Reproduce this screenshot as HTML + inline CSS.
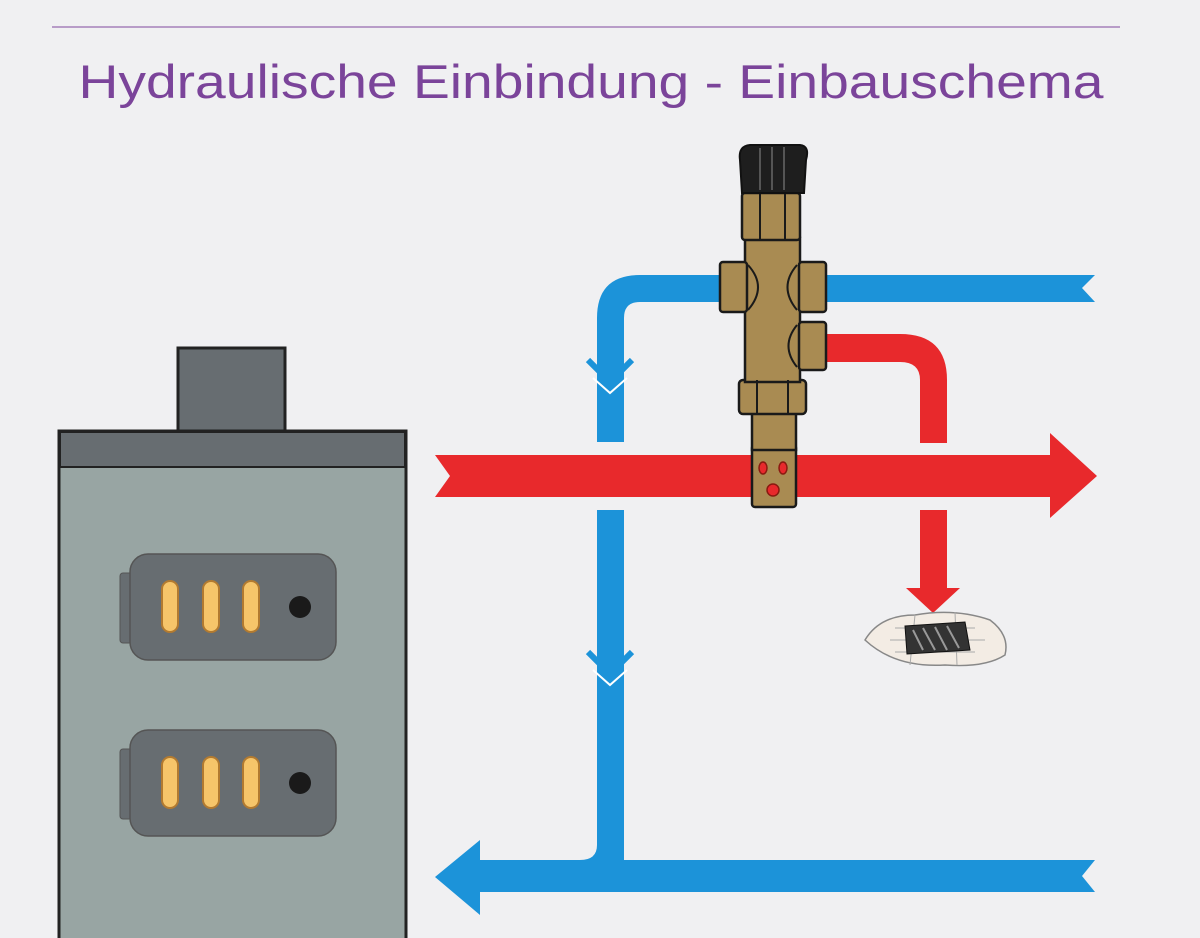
<!DOCTYPE html>
<html><head><meta charset="utf-8"><style>
html,body{margin:0;padding:0;background:#f0f0f2;}
svg{display:block}
</style></head><body>
<svg width="1200" height="938" viewBox="0 0 1200 938" xmlns="http://www.w3.org/2000/svg">
<rect width="1200" height="938" fill="#f0f0f2"/>
<line x1="52" y1="27" x2="1120" y2="27" stroke="#b89cc8" stroke-width="2"/>
<text x="591" y="98" text-anchor="middle" font-family="Liberation Sans, sans-serif" font-size="47" fill="#7b449a" textLength="1025" lengthAdjust="spacingAndGlyphs">Hydraulische Einbindung - Einbauschema</text>

<!-- boiler -->
<rect x="178" y="348" width="107" height="86" fill="#676d71" stroke="#222" stroke-width="3"/>
<rect x="59" y="431" width="347" height="520" fill="#98a5a3" stroke="#222" stroke-width="3"/>
<rect x="60" y="432" width="345" height="35" fill="#676d71" stroke="#222" stroke-width="2"/>
<g id="door">
<rect x="120" y="573" width="12" height="70" rx="3" fill="#676d71" stroke="#555" stroke-width="1"/>
<rect x="130" y="554" width="206" height="106" rx="18" fill="#676d71" stroke="#555" stroke-width="1.5"/>
<rect x="162" y="581" width="16" height="51" rx="8" fill="#f6c56a" stroke="#b27a30" stroke-width="2"/>
<rect x="203" y="581" width="16" height="51" rx="8" fill="#f6c56a" stroke="#b27a30" stroke-width="2"/>
<rect x="243" y="581" width="16" height="51" rx="8" fill="#f6c56a" stroke="#b27a30" stroke-width="2"/>
<circle cx="300" cy="607" r="11" fill="#1a1a1a"/>
</g>
<use href="#door" transform="translate(0,176)"/>

<!-- blue pipes -->
<g fill="#1c93d9">
<path d="M720 275 H640 Q597 275 597 318 V442 H624 V318 Q624 302 640 302 H720 Z"/>
<rect x="597" y="510" width="27" height="352"/>
<path d="M825 275 H1095 L1082 288 L1095 302 H825 Z"/>
<path d="M597 858 V845 Q597 860 580 860 H480 V840 L435 877 L480 915 V892 H1095 L1082 876 L1095 860 H624 V858 Z"/>
</g>
<g fill="none" stroke="#1c93d9" stroke-width="6">
<path d="M588 360 L610 382 L632 360"/>
<path d="M588 652 L610 674 L632 652"/>
</g>
<g fill="none" stroke="#fff" stroke-width="2">
<path d="M593 378 L610 393 L627 378"/>
<path d="M593 670 L610 685 L627 670"/>
</g>

<!-- red pipes -->
<g fill="#e8292c">
<path d="M435 455 H1050 V433 L1097 476 L1050 518 V497 H435 L450 476 Z"/>
<path d="M825 334 H900 Q947 334 947 380 V443 H920 V380 Q920 362 900 362 H825 Z"/>
<path d="M920 510 H947 V588 H960 L933 613 L906 588 H920 Z"/>
</g>

<!-- drain -->
<g transform="translate(935,640)">
<path d="M-70 0 Q-55 -25 -20 -25 Q20 -32 55 -20 Q75 -5 70 15 Q50 28 10 25 Q-40 28 -70 0 Z" fill="#f3ece4" stroke="#888" stroke-width="1.5"/>
<path d="M-40 -12 L40 -12 M-45 0 L50 0 M-40 12 L40 12 M-20 -25 L-25 25 M20 -28 L22 25" stroke="#aaa" stroke-width="1"/>
<path d="M-30 -14 L30 -18 L35 10 L-28 14 Z" fill="#333" stroke="#111"/>
<path d="M-22 -10 L-12 10 M-12 -12 L0 10 M0 -13 L12 10 M12 -14 L24 8" stroke="#999" stroke-width="2"/>
</g>

<!-- valve -->
<g stroke="#1a1a1a" stroke-width="2.5" fill="#a98b52">
<rect x="752" y="445" width="44" height="62" rx="3"/>
<rect x="752" y="412" width="44" height="38"/>
<rect x="739" y="380" width="67" height="34" rx="4"/>
<rect x="745" y="238" width="55" height="144"/>
<rect x="720" y="262" width="27" height="50" rx="3"/>
<rect x="799" y="262" width="27" height="50" rx="3"/>
<rect x="799" y="322" width="27" height="48" rx="3"/>
<rect x="742" y="193" width="58" height="47" rx="3"/>
</g>
<g stroke="#1a1a1a" stroke-width="2" fill="none">
<path d="M760 193 V240 M785 193 V240 M757 380 V414 M788 380 V414"/>
<path d="M748 265 Q768 287 748 310 M797 265 Q778 287 797 310 M797 325 Q780 346 797 367"/>
</g>
<path d="M740 160 Q738 146 750 145 H800 Q810 146 806 160 L804 193 H742 Z" fill="#1e1e1e" stroke="#111" stroke-width="2"/>
<g stroke="#555" stroke-width="2"><path d="M760 148 V190 M772 147 V190 M784 147 V190"/></g>
<g fill="#e8292c" stroke="#8a1a10" stroke-width="1.5">
<ellipse cx="763" cy="468" rx="4" ry="6"/><ellipse cx="783" cy="468" rx="4" ry="6"/>
<circle cx="773" cy="490" r="6"/>
</g>
</svg>
</body></html>
